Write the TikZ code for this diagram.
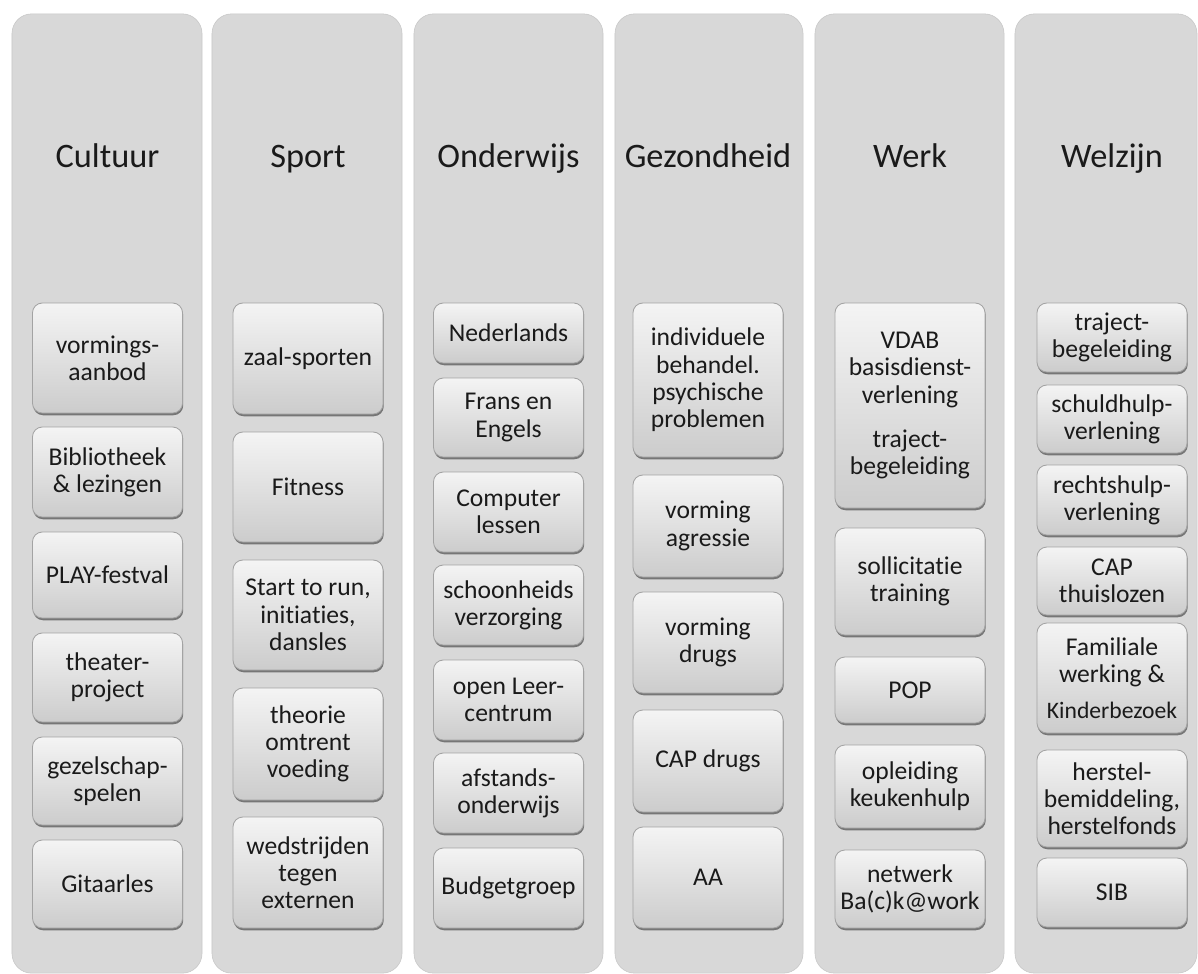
\documentclass[tikz,border=0pt]{standalone}
\usepackage{fontspec}
\setmainfont{Carlito}[Ligatures=NoCommon]
\usepackage{tikz}
\usetikzlibrary{shadows}
\definecolor{lanegray}{HTML}{D8D8D8}
\definecolor{boxtop}{HTML}{F4F4F4}
\definecolor{boxbot}{HTML}{CCCCCC}
\definecolor{boxline}{HTML}{A3A3A3}
\definecolor{ink}{HTML}{1A1A1A}
\tikzset{
  every picture/.style={line join=round, line cap=round},
  lane/.style={fill=lanegray, draw=lanegray!92!black, line width=0.4pt, rounded corners=14pt, inner sep=0pt, minimum height=23.975cm},
  heading/.style={anchor=base, text=ink, font=\fontsize{24.4}{28}\selectfont},
  item/.style={draw=boxline, line width=0.6pt, top color=boxtop, bottom color=boxbot, rounded corners=7pt, minimum width=3.75cm, inner sep=0pt, align=center, text=ink, font=\fontsize{18.2}{19.4}\selectfont, drop shadow={shadow xshift=0.5pt, shadow yshift=-1.6pt, fill=black, opacity=0.45}},
}
% one box: name, x centre, top, bottom, text (pixel units)
\newcommand\activity[5]{\node[item, minimum height={(#4-#3)*0.025cm}] (#1) at (#2,{(#3+#4)/2}) {#5};}

\begin{document}
\begin{tikzpicture}[x=0.025cm,y=-0.025cm]
\useasboundingbox (0,0) rectangle (1198,974);
% lanes
\node[lane, minimum width=4.75cm] (cultuurlane) at (107,493.5) {};
\node[lane, minimum width=4.75cm] (sportlane) at (307,493.5) {};
\node[lane, minimum width=4.725cm] (onderwijslane) at (508.5,493.5) {};
\node[lane, minimum width=4.7cm] (gezondheidlane) at (709,493.5) {};
\node[lane, minimum width=4.725cm] (werklane) at (909.5,493.5) {};
\node[lane, minimum width=4.55cm] (welzijnlane) at (1106,493.5) {};
% headings
\node[heading] (cultuur) at (107.5,167) {Cultuur};
\node[heading] (sport) at (308,167) {Sport};
\node[heading] (onderwijs) at (508.5,167) {Onderwijs};
\node[heading] (gezondheid) at (708,167) {Gezondheid};
\node[heading] (werk) at (910,167) {Werk};
\node[heading] (welzijn) at (1112,167) {Welzijn};
% Cultuur
\activity{c1}{107.5}{303}{413}{vormings-\\aanbod}
\activity{c2}{107.5}{427}{517}{Bibliotheek\\\& lezingen}
\activity{c3}{107.5}{532}{618}{PLAY-festval}
\activity{c4}{107.5}{633}{722}{theater-\\project}
\activity{c5}{107.5}{737}{825}{gezelschap-\\spelen}
\activity{c6}{107.5}{840}{928}{Gitaarles}
% Sport
\activity{s1}{308}{303}{414}{zaal-sporten}
\activity{s2}{308}{432}{542}{Fitness}
\activity{s3}{308}{560}{670}{Start to run,\\initiaties,\\dansles}
\activity{s4}{308}{688}{800}{theorie\\omtrent\\voeding}
\activity{s5}{308}{817}{928}{wedstrijden\\tegen\\externen}
% Onderwijs
\activity{o1}{508.5}{303}{363}{Nederlands}
\activity{o2}{508.5}{378}{457}{Frans en\\Engels}
\activity{o3}{508.5}{472}{552}{Computer\\lessen}
\activity{o4}{508.5}{565}{645}{schoonheids\\verzorging}
\activity{o5}{508.5}{660}{740}{open Leer-\\centrum}
\activity{o6}{508.5}{753}{833}{afstands-\\onderwijs}
\activity{o7}{508.5}{848}{928}{Budgetgroep}
% Gezondheid
\activity{g1}{708}{303}{457}{individuele\\behandel.\\psychische\\problemen}
\activity{g2}{708}{475}{577}{vorming\\agressie}
\activity{g3}{708}{592}{693}{vorming\\drugs}
\activity{g4}{708}{710}{812}{CAP drugs}
\activity{g5}{708}{827}{928}{AA}
% Werk
\activity{w1}{910}{303}{508}{VDAB\\basisdienst-\\verlening\\[12pt]traject-\\begeleiding}
\activity{w2}{910}{528}{635}{sollicitatie\\training}
\activity{w3}{910}{657}{723}{POP}
\activity{w4}{910}{745}{828}{opleiding\\keukenhulp}
\activity{w5}{910}{850}{928}{netwerk\\Ba(c)k@work}
% Welzijn
\activity{z1}{1112}{303}{372}{traject-\\begeleiding}
\activity{z2}{1112}{385}{453}{schuldhulp-\\verlening}
\activity{z3}{1112}{465}{535}{rechtshulp-\\verlening}
\activity{z4}{1112}{547}{615}{CAP\\thuislozen}
\activity{z5}{1112}{623}{733}{Familiale\\werking \&\\[6pt]{\fontsize{16.8}{19}\selectfont Kinderbezoek}}
\activity{z6}{1112}{750}{847}{herstel-\\bemiddeling,\\herstelfonds}
\activity{z7}{1112}{858}{927}{SIB}
\end{tikzpicture}
\end{document}
